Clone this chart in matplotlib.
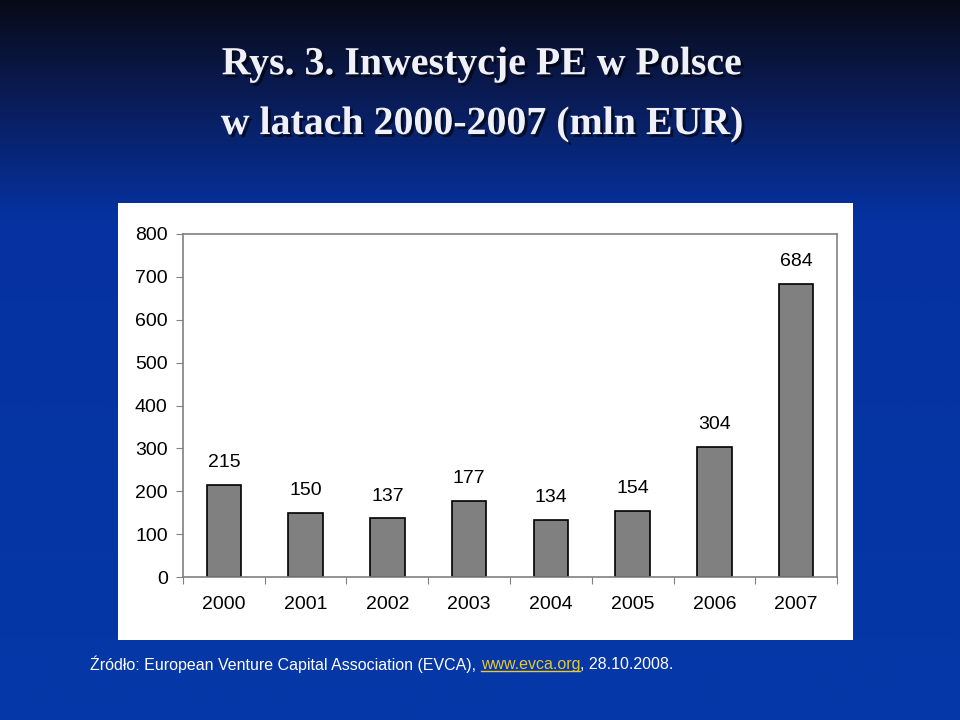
import matplotlib.pyplot as plt
import numpy as np
from matplotlib.colors import LinearSegmentedColormap
import matplotlib.patheffects as pe

years = ['2000', '2001', '2002', '2003', '2004', '2005', '2006', '2007']
values = [215, 150, 137, 177, 134, 154, 304, 684]
y_ticks = [0, 100, 200, 300, 400, 500, 600, 700, 800]

fig = plt.figure(figsize=(9.6, 7.2), dpi=100)

# background gradient
bg = fig.add_axes([0, 0, 1, 1])
grad = np.linspace(0, 1, 256).reshape(-1, 1)
cmap = LinearSegmentedColormap.from_list('bg', [(0, '#070b18'), (0.12, '#0a1a50'),
                                                 (0.3, '#0532a0'), (1, '#0538a8')])
bg.imshow(grad, aspect='auto', cmap=cmap, extent=[0, 1, 0, 1], origin='upper')
bg.set_xlim(0, 1)
bg.set_ylim(0, 1)
bg.axis('off')

# title
shadow = [pe.withSimplePatchShadow(offset=(2, -2), shadow_rgbFace='#000000', alpha=0.6)]
for txt, yy in [('Rys. 3. Inwestycje PE w Polsce', 0.910), ('w latach 2000-2007 (mln EUR)', 0.827)]:
    fig.text(0.502, yy, txt, ha='center', va='center', color='#f0f0f8',
             fontsize=28.7, fontweight='bold', family='Liberation Serif', path_effects=shadow)

# white chart box
boxax = fig.add_axes([0.1229, 0.1111, 0.7656, 0.607])
boxax.set_facecolor('white')
boxax.set_xticks([])
boxax.set_yticks([])
for s in boxax.spines.values():
    s.set_visible(False)

ax = fig.add_axes([0.1906, 0.1986, 0.6813, 0.4764])
ax.set_facecolor('white')
x = np.arange(len(years))
bars = ax.bar(x, values, width=0.42, color='#808080', edgecolor='black', linewidth=1.2)
for xi, v in zip(x, values):
    ax.annotate(str(v), (xi, v), xytext=(0, 16), textcoords='offset points',
                ha='center', va='center', fontsize=14, family='Liberation Sans')

ax.set_xlim(-0.5, len(years) - 0.5)
ax.set_ylim(0, 800)
ax.set_yticks(y_ticks)
ax.set_yticklabels([str(t) for t in y_ticks], fontsize=14, family='Liberation Sans')
ax.set_xticks(np.arange(-0.5, len(years)), labels=[''] * (len(years) + 1))
ax.set_xticks(x, labels=years, minor=True)
ax.tick_params(axis='x', which='minor', length=0, pad=14, labelsize=14)
ax.tick_params(axis='x', which='major', length=5, color='#808080')
ax.tick_params(axis='y', length=5, color='#808080', pad=6)
for lab in ax.get_xticklabels(minor=True):
    lab.set_family('Liberation Sans')
for s in ax.spines.values():
    s.set_color('#808080')
    s.set_linewidth(1.2)

# source line
fs = 11.5
t1 = fig.text(0.094, 0.077, 'Źródło: European Venture Capital Association (EVCA), ',
              color='white', fontsize=fs, family='Liberation Sans', va='center')
fig.canvas.draw()
r = fig.canvas.get_renderer()
bb = t1.get_window_extent(r)
x2 = bb.x1 / fig.bbox.width
t2 = fig.text(x2, 0.077, 'www.evca.org', color='#e8c832', fontsize=fs,
              family='Liberation Sans', va='center')
bb2 = t2.get_window_extent(r)
x3 = bb2.x1 / fig.bbox.width
fig.add_artist(plt.Line2D([x2, x3], [bb2.y0 / fig.bbox.height + 0.002] * 2,
                          color='#e8c832', linewidth=1))
fig.text(x3, 0.077, ', 28.10.2008.', color='white', fontsize=fs,
         family='Liberation Sans', va='center')

plt.savefig('out.png', dpi=100)
